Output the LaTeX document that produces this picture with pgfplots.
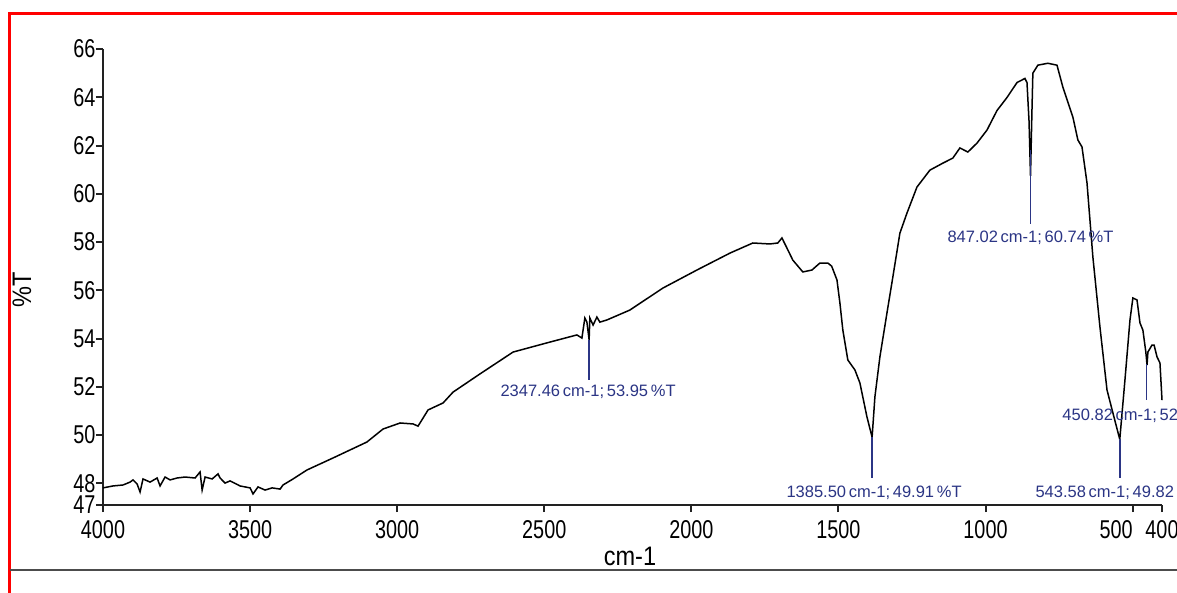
\documentclass[border=0pt]{standalone}
\usepackage{pgfplots}
\pgfplotsset{compat=1.18}
\usepackage{pgfplotstable}
\usepackage{fontspec}
\setmainfont{Liberation Sans}
\newfontfamily\tickfont[FakeStretch=0.77]{Liberation Sans}
\newfontfamily\labfont[FakeStretch=0.88]{Liberation Sans}
\definecolor{annblue}{HTML}{2B3585}
\definecolor{axgray}{HTML}{222222}

\pgfplotstableread{
wn T
4000 47.81
3966 47.89
3932 47.93
3908 48.05
3898 48.14
3884 47.97
3874 47.64
3864 48.18
3840 48.05
3816 48.22
3806 47.89
3789 48.26
3772 48.14
3748 48.22
3721 48.26
3687 48.22
3670 48.47
3663 47.72
3653 48.26
3629 48.18
3609 48.39
3602 48.22
3585 48.01
3568 48.10
3534 47.89
3500 47.81
3490 47.56
3473 47.85
3449 47.72
3425 47.81
3398 47.76
3388 47.93
3354 48.18
3307 48.55
3218 49.05
3103 49.71
3048 50.25
2990 50.50
2946 50.46
2929 50.37
2895 51.04
2844 51.33
2810 51.78
2719 52.53
2606 53.44
2491 53.82
2389 54.15
2372 54.02
2362 54.85
2355 54.68
2347.46 53.95
2345 54.85
2334 54.56
2321 54.89
2311 54.68
2287 54.77
2209 55.18
2097 56.09
1981 56.84
1869 57.54
1791 57.96
1733 57.92
1706 57.96
1692 58.17
1675 57.75
1655 57.25
1621 56.76
1590 56.84
1563 57.13
1536 57.13
1523 57.00
1505 56.43
1495 55.48
1485 54.35
1468 53.11
1444 52.70
1427 52.16
1403 50.75
1385.5 49.91
1376 51.58
1359 53.24
1335 55.06
1315 56.55
1291 58.37
1267 59.20
1233 60.28
1189 60.98
1145 61.27
1111 61.48
1087 61.90
1060 61.73
1029 62.10
995 62.64
961 63.45
927 63.99
893 64.61
866 64.78
859 64.61
852 63.00
847.02 60.74
842 63.50
839 65.00
822 65.33
788 65.41
757 65.33
737 64.42
703 63.18
686 62.23
672 61.94
655 60.45
635 57.38
611 54.48
587 51.87
567 50.92
543.58 49.82
526 52.28
509 54.76
499 55.68
485 55.60
475 54.65
465 54.35
455 53.44
450.82 52.90
448 53.44
434 53.73
427 53.73
417 53.24
407 52.99
400 51.45
}\spectrum

\begin{document}
\begin{tikzpicture}
\useasboundingbox (0pt,0pt) rectangle (470.8pt,-236.8pt);
\clip (0pt,0pt) rectangle (470.8pt,-236.8pt);
\fill[white] (0pt,0pt) rectangle (470.8pt,-236.8pt);
\begin{axis}[
  name=ax,
  at={(41.2pt,-202pt)}, anchor=south west,
  scale only axis, width=423.6pt, height=182.4pt,
  xmin=-4000, xmax=-400, ymin=47.1, ymax=66,
  axis lines=left,
  axis line style={-, axgray, line width=0.8pt},
  xtick={-4000,-3500,-3000,-2500,-2000,-1500,-1000,-500,-400},
  xticklabels={4000,3500,3000,2500,2000,1500,1000,\llap{500},400},
  ytick={47.1,48,50,52,54,56,58,60,62,64,66},
  yticklabels={47,48,50,52,54,56,58,60,62,64,66},
  tick align=outside,
  major tick length=2.8pt,
  tick style={axgray, line width=0.8pt},
  xticklabel style={font=\tickfont\fontsize{10.3}{12}\selectfont, inner sep=0pt, anchor=north, yshift=-3pt},
  yticklabel style={font=\tickfont\fontsize{10.3}{12}\selectfont, inner sep=0pt, anchor=east, xshift=0pt},
  clip=false,
]
\addplot[black, line width=0.6pt, mark=none] table[x expr=-\thisrow{wn}, y=T] {\spectrum};

\begin{scope}[annblue, line width=0.6pt]
\draw (axis cs:-2347.46,53.95) -- (axis cs:-2347.46,52.28);
\draw (axis cs:-1385.5,49.91) -- (axis cs:-1385.5,48.22);
\draw (axis cs:-847.02,61.8) -- (axis cs:-847.02,58.75);
\draw (axis cs:-543.58,49.82) -- (axis cs:-543.58,48.22);
\draw (axis cs:-452.5,52.95) -- (axis cs:-452.5,51.45);
\end{scope}
\begin{scope}[every node/.style={annblue, inner sep=0pt, anchor=base west, font=\fontsize{6.6}{7}\selectfont}]
\node at (axis cs:-2650.4,51.58) {2347.46\,cm-1;\,53.95\,\%T};
\node at (axis cs:-1678.2,47.43) {1385.50\,cm-1;\,49.91\,\%T};
\node at (axis cs:-1130.9,58.0) {847.02\,cm-1;\,60.74\,\%T};
\node at (axis cs:-831.7,47.43) {543.58\,cm-1;\,49.82\,\%T};
\node at (axis cs:-740.0,50.62) {450.82\,cm-1;\,52.96\,\%T};
\end{scope}
\end{axis}

\begin{scope}[x=0.4pt,y=-0.4pt]
\draw[red, line width=1.2pt] (9.5,600) -- (9.5,13.5) -- (1200,13.5);
\draw[black!70, line width=0.8pt] (10,570) -- (1200,570);
\node[font=\labfont\fontsize{10.7}{12}\selectfont, inner sep=0pt] at (630,556) {cm-1};
\node[font=\labfont\fontsize{10.7}{12}\selectfont, inner sep=0pt, rotate=90] at (22,290) {\%T};
\end{scope}
\end{tikzpicture}
\end{document}
